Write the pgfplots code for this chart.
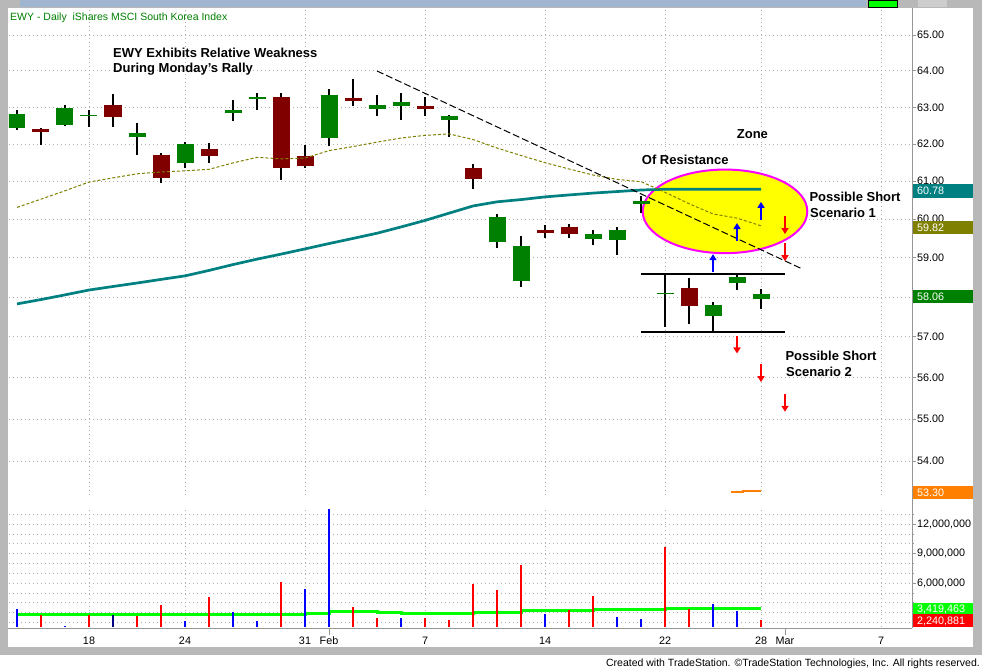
\documentclass[border=0pt]{standalone}
\usepackage{pgfplots}
\pgfplotsset{compat=1.18}
\usepackage{fontspec}
\setmainfont{Liberation Sans}
\usetikzlibrary{arrows.meta,shapes.geometric}

\definecolor{tsgreen}{RGB}{0,128,0}
\definecolor{tsred}{RGB}{128,0,0}
\definecolor{tsteal}{RGB}{0,128,128}
\definecolor{tsolive}{RGB}{128,128,0}
\definecolor{tsorange}{RGB}{255,128,0}
\definecolor{tslime}{RGB}{0,255,0}
\definecolor{vred}{RGB}{255,0,0}
\definecolor{vblue}{RGB}{0,0,255}
\definecolor{vnavy}{RGB}{0,0,128}
\definecolor{gridgray}{RGB}{176,176,176}
\definecolor{framegray}{RGB}{184,184,184}
\definecolor{bandblue}{RGB}{160,182,208}
\definecolor{axgray}{RGB}{150,150,150}
\definecolor{lgray}{RGB}{205,205,205}
\definecolor{ellyellow}{RGB}{255,255,0}
\definecolor{ellmag}{RGB}{255,0,255}

% candle: index, open, high, low, close, body colour
\newcommand{\candle}[6]{%
  \addplot[black, line width=2.5pt, forget plot] coordinates {(#1,#4)(#1,#3)};
  \addplot[#6, line width=17pt, forget plot] coordinates {(#1,#2)(#1,#5)};
}

\pgfplotsset{
  tsbase/.style={
    scale only axis, clip=true,
    xmin=-0.3333, xmax=37.2917,
    axis line style={draw=none},
    grid style={gridgray, line width=0.8pt, dash pattern=on 1pt off 3pt},
    tick label style={font=\fontsize{10.8}{12}\selectfont, text=black},
    ytick pos=right, yticklabel pos=right,
    tick align=outside,
    major tick length=4pt, minor tick length=2pt,
    ytick style={axgray, line width=0.8pt},
    xtick style={draw=none},
    yticklabel style={anchor=west, inner xsep=1pt},
    xtick={3,7,12,17,22,27,31,36}, xticklabels={},
    xmajorgrids,
  }
}

\begin{document}
\begin{tikzpicture}
\begin{scope}[x=1pt,y=1pt]
\fill[white] (0,0) rectangle (982,670);
\fill[framegray] (0,15) rectangle (982,670);
\fill[bandblue] (20,662.5) rectangle (866,670);
\filldraw[fill=tslime, draw=black, line width=0.8pt] (868,662.9) rectangle (897,670);
\fill[lgray] (918,662.5) rectangle (947,670);
\fill[white] (8,23) rectangle (973,662);
\end{scope}

% ---------------- price panel (logarithmic price scale) ----------------
\begin{axis}[tsbase, at={(9pt,175pt)}, anchor=south west, width=903pt, height=487pt,
  y coord trafo/.code={\pgfmathparse{ln(#1)}},
  y coord inv trafo/.code={\pgfmathparse{exp(#1)}},
  ymin=53.207, ymax=65.768,
  ytick={54,55,56,57,58,59,60,61,62,63,64,65},
  yticklabels={54.00,55.00,56.00,57.00,58.00,59.00,60.00,61.00,62.00,63.00,64.00,65.00},
  ymajorgrids]

\node[ellipse, fill=ellyellow, draw=ellmag, line width=2pt, minimum width=164.6pt, minimum height=83.6pt, inner sep=0pt] at (axis cs:29.5,60.20) {};

\candle{0}{62.43}{62.91}{62.37}{62.80}{tsgreen}
\candle{1}{62.40}{62.41}{61.96}{62.32}{tsred}
\candle{2}{62.51}{63.05}{62.48}{62.98}{tsgreen}
\candle{3}{62.745}{62.92}{62.46}{62.765}{tsgreen}
\candle{4}{63.05}{63.35}{62.46}{62.73}{tsred}
\candle{5}{62.19}{62.55}{61.69}{62.29}{tsgreen}
\candle{6}{61.69}{61.75}{60.94}{61.09}{tsred}
\candle{7}{61.47}{62.04}{61.36}{61.99}{tsgreen}
\candle{8}{61.86}{62.01}{61.49}{61.66}{tsred}
\candle{9}{62.82}{63.19}{62.60}{62.92}{tsgreen}
\candle{10}{63.22}{63.37}{62.92}{63.27}{tsgreen}
\candle{11}{63.27}{63.37}{61.03}{61.35}{tsred}
\candle{12}{61.66}{61.96}{61.36}{61.39}{tsred}
\candle{13}{62.15}{63.50}{61.93}{63.32}{tsgreen}
\candle{14}{63.25}{63.76}{63.01}{63.17}{tsred}
\candle{15}{62.95}{63.32}{62.74}{63.05}{tsgreen}
\candle{16}{63.03}{63.39}{62.63}{63.13}{tsgreen}
\candle{17}{63.03}{63.28}{62.76}{62.93}{tsred}
\candle{18}{62.63}{62.78}{62.18}{62.75}{tsgreen}
\candle{19}{61.35}{61.44}{60.79}{61.06}{tsred}
\candle{20}{59.41}{60.13}{59.26}{60.06}{tsgreen}
\candle{21}{58.41}{59.55}{58.24}{59.29}{tsgreen}
\candle{22}{59.71}{59.84}{59.51}{59.64}{tsred}
\candle{23}{59.80}{59.87}{59.51}{59.60}{tsred}
\candle{24}{59.48}{59.71}{59.32}{59.61}{tsgreen}
\candle{25}{59.45}{59.80}{59.07}{59.71}{tsgreen}
\candle{26}{60.40}{60.60}{60.15}{60.47}{tsgreen}
\candle{27}{58.085}{58.57}{57.25}{58.105}{tsgreen}
\candle{28}{58.22}{58.47}{57.31}{57.78}{tsred}
\candle{29}{57.53}{57.86}{57.12}{57.80}{tsgreen}
\candle{30}{58.36}{58.57}{58.16}{58.51}{tsgreen}
\candle{31}{57.94}{58.20}{57.70}{58.06}{tsgreen}

% 50-day average (teal)
\addplot[tsteal, line width=2.7pt] coordinates {
(0,57.82)(1,57.93)(2,58.05)(3,58.17)(4,58.26)(5,58.35)(6,58.44)(7,58.53)(8,58.67)(9,58.82)(10,58.96)(11,59.09)(12,59.22)(13,59.36)(14,59.49)(15,59.63)(16,59.79)(17,59.96)(18,60.15)(19,60.34)(20,60.45)(21,60.51)(22,60.58)(23,60.63)(24,60.68)(25,60.72)(26,60.76)(27,60.78)(28,60.78)(29,60.78)(30,60.78)(31,60.78)
};

% 20-day average (olive, dotted)
\addplot[tsolive, line width=1pt, dash pattern=on 3pt off 2pt] coordinates {
(0,60.30)(1,60.52)(2,60.74)(3,60.97)(4,61.08)(5,61.19)(6,61.24)(7,61.27)(8,61.31)(9,61.48)(10,61.63)(11,61.59)(12,61.61)(13,61.81)(14,61.92)(15,62.04)(16,62.15)(17,62.22)(18,62.26)(19,62.11)(20,61.88)(21,61.68)(22,61.49)(23,61.32)(24,61.16)(25,61.04)(26,60.98)(27,60.70)(28,60.40)(29,60.13)(30,60.02)(31,59.82)
};

% 200-day average (orange)
\addplot[tsorange, line width=1.5pt] coordinates {(29.75,53.27)(30.25,53.27)(30.25,53.30)(31,53.30)};

% down trend line
\addplot[black, line width=1pt, dash pattern=on 7pt off 3pt] coordinates {(15,63.99)(32.75,58.70)};

% trading range
\addplot[black, line width=2pt] coordinates {(26,58.57)(32,58.57)};
\addplot[black, line width=2pt] coordinates {(26,57.11)(32,57.11)};

% arrows
\draw[vblue, line width=2pt, -{Triangle[length=6pt, width=7pt]}] (axis cs:29,58.64) -- (axis cs:29,59.09);
\draw[vblue, line width=2pt, -{Triangle[length=6pt, width=7pt]}] (axis cs:30,59.43) -- (axis cs:30,59.90);
\draw[vblue, line width=2pt, -{Triangle[length=6pt, width=7pt]}] (axis cs:31,59.99) -- (axis cs:31,60.45);
\draw[vred, line width=2pt, -{Triangle[length=6pt, width=7pt]}] (axis cs:32,60.08) -- (axis cs:32,59.61);
\draw[vred, line width=2pt, -{Triangle[length=6pt, width=7pt]}] (axis cs:32,59.37) -- (axis cs:32,58.91);
\draw[vred, line width=2pt, -{Triangle[length=6pt, width=7pt]}] (axis cs:30,57.02) -- (axis cs:30,56.59);
\draw[vred, line width=2pt, -{Triangle[length=6pt, width=7pt]}] (axis cs:31,56.33) -- (axis cs:31,55.89);
\draw[vred, line width=2pt, -{Triangle[length=6pt, width=7pt]}] (axis cs:32,55.60) -- (axis cs:32,55.17);
\end{axis}

% ---------------- volume panel (millions) ----------------
\begin{axis}[tsbase, at={(9pt,43pt)}, anchor=south west, width=903pt, height=120pt,
  ymin=1.5275, ymax=13.747,
  ytick={6,9,12}, yticklabels={{6,000,000},{9,000,000},{12,000,000}},
  minor ytick={2,3,4,5,7,8,10,11,13},
  ymajorgrids, yminorgrids]
\addplot[tslime, line width=3pt, const plot] coordinates {
(0,2.75)(1,2.75)(2,2.75)(3,2.75)(4,2.75)(5,2.75)(6,2.75)(7,2.75)(8,2.85)(9,2.85)(10,2.85)(11,2.85)(12,2.95)(13,3.09)(14,3.09)(15,3.02)(16,2.95)(17,2.95)(18,2.95)(19,3.05)(20,3.05)(21,3.16)(22,3.16)(23,3.16)(24,3.29)(25,3.29)(26,3.29)(27,3.39)(28,3.45)(29,3.45)(30,3.45)(31,3.45)
};
\addplot[ycomb, vblue, line width=2.3pt] coordinates {
(0,3.36)(2,1.66)(7,2.14)(9,3.05)(10,2.14)(12,5.40)(13,13.54)(16,2.44)(22,2.85)(25,2.55)(26,2.34)(29,3.87)(30,3.16)
};
\addplot[ycomb, vnavy, line width=2.3pt] coordinates {(4,2.75)};
\addplot[ycomb, vred, line width=2.3pt] coordinates {
(1,2.75)(3,2.75)(5,2.68)(6,3.77)(8,4.61)(11,6.14)(14,3.56)(15,2.44)(17,2.44)(18,2.24)(19,5.91)(20,5.30)(21,7.84)(23,3.26)(24,4.68)(27,9.67)(28,3.36)(31,2.24)
};
\end{axis}

\begin{scope}[x=1pt,y=1pt]
% frame lines
\draw[axgray, line width=1pt] (912,42) -- (912,662);
\draw[axgray, line width=1pt] (8,42) -- (912,42);
\draw[axgray, line width=1pt] (329,42) -- (329,35);
\draw[axgray, line width=1pt] (785,42) -- (785,35);

% date labels
\begin{scope}[every node/.style={anchor=base, font=\fontsize{10.8}{12}\selectfont, inner sep=0pt}]
\node at (89,26) {18};
\node at (185,26) {24};
\node at (305,26) {31};
\node at (329,26) {Feb};
\node at (425,26) {7};
\node at (545,26) {14};
\node at (665,26) {22};
\node at (761,26) {28};
\node at (785,26) {Mar};
\node at (881,26) {7};
\end{scope}

% last value boxes
\begin{scope}[every node/.style={anchor=base west, font=\fontsize{10.8}{12}\selectfont, text=white, inner sep=0pt}]
\fill[tsteal] (912.5,472.3) rectangle (973,485.7); \node at (917,475.1) {60.78};
\fill[tsolive] (912.5,435.7) rectangle (973,449); \node at (917,438.4) {59.82};
\fill[tsgreen] (912.5,366.7) rectangle (973,380); \node at (917,369.4) {58.06};
\fill[tsorange] (912.5,170.7) rectangle (973,184); \node at (917,173.4) {53.30};
\fill[tslime] (912.5,56) rectangle (973,66.7); \node at (917,57.4) {3,419,463};
\fill[vred] (912.5,43.3) rectangle (973,56); \node at (917,45.8) {2,240,881};
\end{scope}

% title and annotations
\node[anchor=base west, inner sep=0pt, text=tsgreen, font=\fontsize{10.5}{12}\selectfont] at (10,649.3) {EWY - Daily \ iShares MSCI South Korea Index};
\begin{scope}[every node/.style={anchor=base west, inner sep=0pt, font=\fontsize{13}{15}\selectfont\bfseries}]
\node at (113,612.7) {EWY Exhibits Relative Weakness};
\node at (113,597.3) {During Monday's Rally};
\node at (736.7,531) {Zone};
\node at (641.7,505) {Of Resistance};
\node at (809.3,468.3) {Possible Short};
\node at (810,452.7) {Scenario 1};
\node at (785.3,309.3) {Possible Short};
\node at (786,293.3) {Scenario 2};
\end{scope}

\node[anchor=base east, inner sep=0pt, font=\fontsize{10.5}{12}\selectfont] at (980,3.5) {Created with TradeStation. ©TradeStation Technologies, Inc. All rights reserved.};

\pgfresetboundingbox
\useasboundingbox (0,0) rectangle (982,670);
\end{scope}
\end{tikzpicture}
\end{document}
